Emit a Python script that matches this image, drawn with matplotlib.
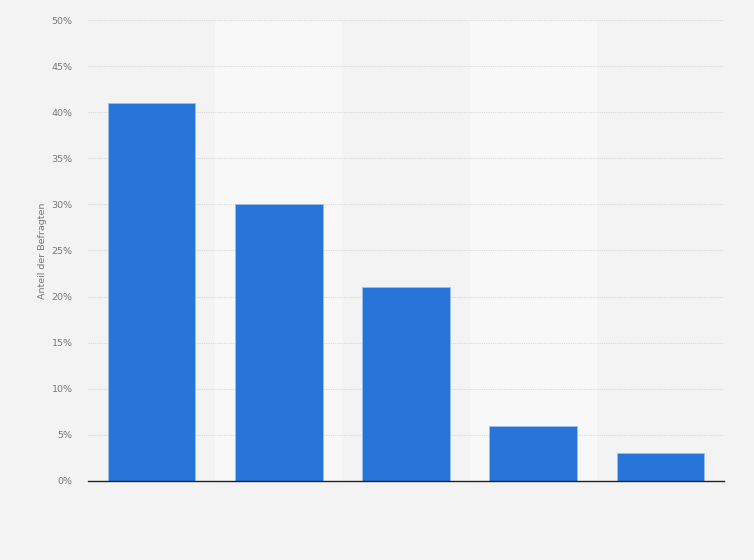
import numpy as np
import matplotlib.pyplot as plt
from matplotlib.ticker import FuncFormatter

# Werte aus der Grafik (Anteil der Befragten in %)
kategorien = ["A", "B", "C", "D", "E"]
anteile = [41, 30, 21, 6, 3]
y_ticks = [0, 5, 10, 15, 20, 25, 30, 35, 40, 45, 50]

fig = plt.figure(figsize=(7.54, 5.6), dpi=100)
fig.patch.set_facecolor("#f3f3f3")
ax = fig.add_axes([88 / 754, 79 / 560, 636 / 754, 461 / 560])
ax.set_facecolor("#f3f3f3")

x = np.arange(len(kategorien))

# abwechselnde Hintergrundstreifen
for i in x:
    if i % 2 == 1:
        ax.axvspan(i - 0.5, i + 0.5, color="#f8f8f8", zorder=0, lw=0)

ax.bar(x, anteile, width=0.69, color="#2775d9", edgecolor="#9cc0ee",
       linewidth=0.6, zorder=3)

ax.set_xlim(-0.5, len(kategorien) - 0.5)
ax.set_ylim(0, 50)
ax.set_yticks(y_ticks)
ax.yaxis.set_major_formatter(FuncFormatter(lambda v, p: f"{v:.0f}%"))
ax.set_xticks([])

ax.grid(axis="y", color="#d8d8d8", linestyle=(0, (1, 1)), linewidth=0.8, zorder=1)
ax.tick_params(axis="y", length=0, pad=11, labelsize=6.8, labelcolor="#777777")

for s in ["top", "right", "left"]:
    ax.spines[s].set_visible(False)
ax.spines["bottom"].set_color("#222222")
ax.spines["bottom"].set_linewidth(1.0)
ax.spines["bottom"].set_zorder(4)

ax.set_ylabel("Anteil der Befragten", fontsize=6.8, color="#777777", labelpad=3)

fig.savefig("out.png", dpi=100, facecolor=fig.get_facecolor())
